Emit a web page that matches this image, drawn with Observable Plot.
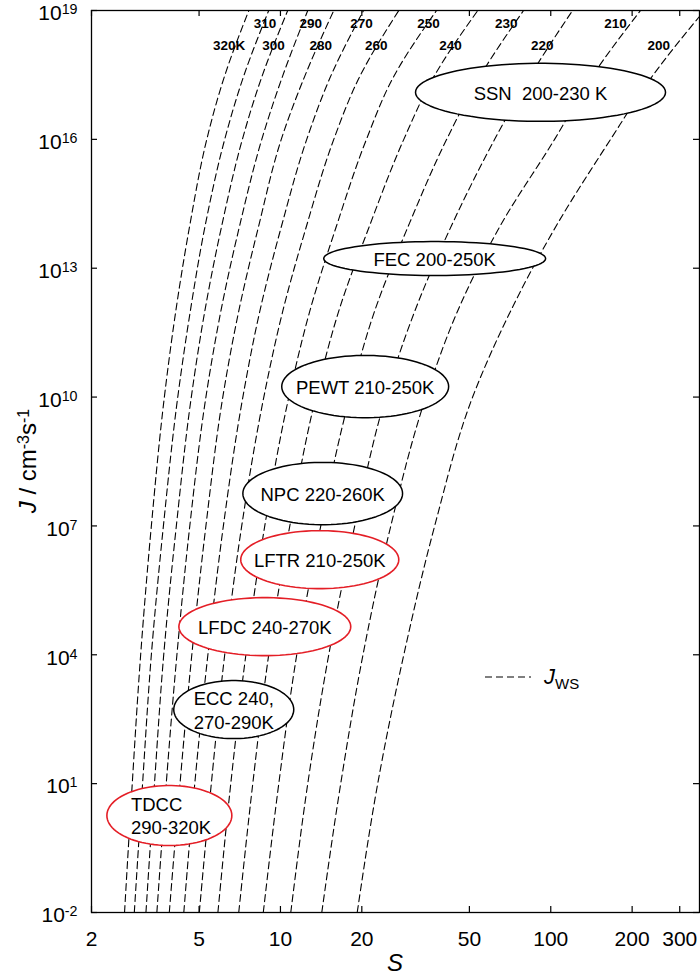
<!DOCTYPE html>
<html>
<head>
<meta charset="utf-8">
<script src="https://cdn.jsdelivr.net/npm/d3@7"></script>
<script src="https://cdn.jsdelivr.net/npm/@observablehq/plot@0.6"></script>
<style>
  body { margin: 0; background: #fff; font-family: "Liberation Sans", Arial, sans-serif; }
  #wrap { position: relative; width: 700px; height: 976px; }
  .ylab { position: absolute; left: 28px; top: 461px; transform: translate(-50%, -50%) rotate(-90deg);
          font-size: 24px; white-space: nowrap; line-height: 1; }
  .ylab sup { font-size: 16px; vertical-align: 0.45em; line-height: 0; }
  .xlab { position: absolute; left: 395px; top: 963px; transform: translate(-50%, -50%);
          font-size: 24px; font-style: italic; }
  .leg { position: absolute; left: 484px; top: 664px; height: 26px; display: flex; align-items: center; }
  .leg span { font-size: 22px; margin-left: 12px; }
  .leg sub { font-size: 15px; font-style: normal; vertical-align: -0.3em; line-height: 0; }
</style>
</head>
<body>
<div id="wrap">
  <div id="chart"></div>
  <div class="ylab"><i>J</i> / cm<sup>-3</sup>s<sup>-1</sup></div>
  <div class="xlab">S</div>
  <div class="leg">
    <svg width="48" height="12"><line x1="1" y1="6" x2="47" y2="6" stroke="black" stroke-width="1.1" stroke-dasharray="7,4"/></svg>
    <span><i>J</i><sub>WS</sub></span>
  </div>
</div>
<script>
// ---- Data ----
const temps = [320, 310, 300, 290, 280, 270, 260, 250, 240, 230, 220, 210, 200];
const jLevels = [1e-2, 1e1, 1e4, 1e7, 1e10, 1e12, 1e14, 1e16, 2.6e17, 1e19];

const S_320 = [2.65, 2.83, 3.04, 3.33, 3.72, 4.10, 4.62, 5.34, 6.17, 7.64];
const S_310 = [2.88, 3.09, 3.33, 3.69, 4.17, 4.64, 5.27, 6.22, 7.26, 9.05];
const S_300 = [3.18, 3.42, 3.70, 4.12, 4.68, 5.25, 6.07, 7.23, 8.49, 10.64];
const S_290 = [3.49, 3.78, 4.14, 4.62, 5.30, 6.02, 7.07, 8.53, 10.11, 12.62];
const S_280 = [3.88, 4.25, 4.70, 5.30, 6.12, 7.01, 8.32, 10.07, 12.20, 15.75];
const S_270 = [4.39, 4.82, 5.39, 6.15, 7.26, 8.39, 10.11, 12.51, 15.21, 20.3];
const S_260 = [5.01, 5.55, 6.22, 7.19, 8.68, 10.20, 12.51, 15.75, 19.48, 27.4];
const S_250 = [5.87, 6.55, 7.45, 8.75, 10.74, 12.84, 16.15, 20.8, 26.0, 37.8];
const S_240 = [7.01, 7.90, 9.05, 10.83, 13.51, 16.43, 21.4, 28.6, 36.6, 53.7];
const S_230 = [8.64, 9.86, 11.49, 14.10, 18.04, 22.3, 29.8, 41.2, 54.1, 79.3];
const S_220 = [10.92, 12.62, 15.09, 18.83, 24.5, 31.4, 43.0, 62.0, 82.8, 120.4];
const S_210 = [14.22, 16.71, 20.2, 25.6, 34.5, 45.2, 65.2, 103.3, 140.4, 214.8];
const S_200 = [19.23, 22.9, 28.6, 37.2, 51.4, 71.0, 105.1, 166.4, 234, 370];
const sSeries = [S_320, S_310, S_300, S_290, S_280, S_270, S_260, S_250, S_240, S_230, S_220, S_210, S_200];

// curve labels
const labelText = ["320K", "310", "300", "290", "280", "270", "260", "250", "240", "230", "220", "210", "200"];
const labelS = [6.46, 8.77, 9.42, 12.95, 14.10, 19.93, 22.6, 35.3, 42.6, 68.5, 93.0, 173.6, 251];
const labelJ = [1.55e18, 5.0e18, 1.55e18, 5.0e18, 1.55e18, 5.0e18, 1.55e18, 5.0e18, 1.55e18, 5.0e18, 1.55e18, 5.0e18, 1.55e18];

// experiment ellipses (extent in S and J)
const ellNames = ["SSN  200-230 K", "FEC 200-250K", "PEWT 210-250K", "NPC 220-260K", "LFTR 210-250K", "LFDC 240-270K", "ECC 240,\n270-290K", "TDCC\n290-320K"];
const ellSLo = [31.6, 14.46, 10.11, 7.26, 7.13, 4.21, 4.03, 2.28];
const ellSHi = [265.8, 95.7, 41.9, 28.3, 27.4, 18.2, 11.2, 6.61];
const ellJLo = [2.63e16, 6.76e12, 3.31e9, 1.07e7, 3.47e5, 9.55e3, 112, 0.363];
const ellJHi = [5.89e17, 4.17e13, 9.33e10, 3.02e8, 7.76e6, 2.14e5, 2.51e3, 9.04];
const ellRed = [false, false, false, false, true, true, false, true];

const xTicks = [2, 5, 10, 20, 50, 100, 200, 300];
const yTicks = [1e-2, 1e1, 1e4, 1e7, 1e10, 1e13, 1e16, 1e19];

// ---- Build tables ----
const curves = temps.flatMap((T, i) => jLevels.map((J, k) => ({T, S: sSeries[i][k], J})));
const labels = labelText.map((t, i) => ({t, S: labelS[i], J: labelJ[i]}));
const ells = ellNames.map((name, i) => ({
  name, sLo: ellSLo[i], sHi: ellSHi[i], jLo: ellJLo[i], jHi: ellJHi[i], red: ellRed[i],
  cS: Math.sqrt(ellSLo[i] * ellSHi[i]), cJ: Math.sqrt(ellJLo[i] * ellJHi[i])
}));
const ellPts = ells.flatMap(e => {
  const cx = (Math.log10(e.sLo) + Math.log10(e.sHi)) / 2, rx = (Math.log10(e.sHi) - Math.log10(e.sLo)) / 2;
  const cy = (Math.log10(e.jLo) + Math.log10(e.jHi)) / 2, ry = (Math.log10(e.jHi) - Math.log10(e.jLo)) / 2;
  return d3.range(0, 361, 4).map(a => {
    const t = a * Math.PI / 180;
    return {name: e.name, red: e.red, S: Math.pow(10, cx + rx * Math.cos(t)), J: Math.pow(10, cy + ry * Math.sin(t))};
  });
});

const W = 700, H = 976, mL = 91, mR = 1, mT = 10, mB = 64;
const fw = W - mL - mR, fh = H - mT - mB, tl = 6;
const red = "#e41e26";

const chart = Plot.plot({
  width: W, height: H,
  marginLeft: mL, marginRight: mR, marginTop: mT, marginBottom: mB,
  x: {type: "log", domain: [2, 355]},
  y: {type: "log", domain: [1e-2, 1e19]},
  style: {fontFamily: "'Liberation Sans', Arial, sans-serif", fontSize: "21px", color: "black", background: "white"},
  marks: [
    Plot.line(curves, {x: "S", y: "J", z: "T", stroke: "black", strokeWidth: 1.1, strokeDasharray: "7,4", curve: "monotone-y", clip: true}),
    Plot.line(ellPts.filter(d => !d.red), {x: "S", y: "J", z: "name", fill: "white", stroke: "black", strokeWidth: 1.5}),
    Plot.line(ellPts.filter(d => d.red), {x: "S", y: "J", z: "name", fill: "white", stroke: red, strokeWidth: 1.6}),
    Plot.text(ells.filter(e => !e.name.startsWith("TDCC")), {x: "cS", y: "cJ", text: "name", fontSize: 18.5, lineHeight: 1.28, fill: "black"}),
    Plot.text(ells.filter(e => e.name.startsWith("TDCC")), {x: "sLo", y: "cJ", text: "name", dx: 24, textAnchor: "start", fontSize: 18.5, lineHeight: 1.22, fill: "black"}),
    Plot.text(labels, {x: "S", y: "J", text: "t", fontSize: 13.5, fontWeight: "bold", fill: "black"}),
    Plot.frame({stroke: "black", strokeWidth: 1.3}),
    Plot.tickX(xTicks, {x: d => d, insetTop: fh - tl, stroke: "black", strokeWidth: 1.2}),
    Plot.tickX(xTicks, {x: d => d, insetBottom: fh - tl, stroke: "black", strokeWidth: 1.2}),
    Plot.tickY(yTicks, {y: d => d, insetRight: fw - tl, stroke: "black", strokeWidth: 1.2}),
    Plot.tickY(yTicks, {y: d => d, insetLeft: fw - tl, stroke: "black", strokeWidth: 1.2}),
    Plot.axisX({ticks: xTicks, tickFormat: d => String(d), tickSize: 0, tickPadding: 19, label: null}),
    Plot.axisY({ticks: yTicks, tickFormat: d => "10^" + Math.round(Math.log10(d)), tickSize: 0, tickPadding: 14, dy: 3, label: null})
  ]
});

// superscript exponents in y tick labels
const ns = "http://www.w3.org/2000/svg";
chart.querySelectorAll('g[aria-label="y-axis tick label"] text').forEach(t => {
  const [b, e] = t.textContent.split("^");
  if (e === undefined) return;
  t.textContent = "";
  const t1 = document.createElementNS(ns, "tspan"); t1.textContent = b;
  const t2 = document.createElementNS(ns, "tspan"); t2.textContent = e;
  t2.setAttribute("dy", "-0.42em"); t2.setAttribute("font-size", "0.68em");
  t.append(t1, t2);
});

document.getElementById("chart").append(chart);
</script>
</body>
</html>
